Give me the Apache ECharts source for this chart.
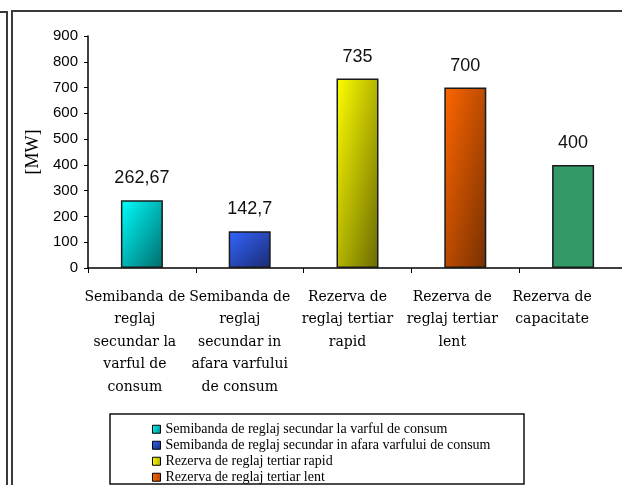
<!DOCTYPE html>
<html>
<head>
<meta charset="utf-8">
<script src="https://cdn.jsdelivr.net/npm/echarts@6/dist/echarts.min.js"></script>
<style>
  html, body { margin: 0; padding: 0; background: #fff; }
  #chart { width: 622px; height: 485px; }
</style>
</head>
<body>
<div id="chart"></div>
<script>
// axis labels (line breaks as in the original)
const categories = [
  "Semibanda de\nreglaj\nsecundar la\nvarful de\nconsum",
  "Semibanda de\nreglaj\nsecundar in\nafara varfului\nde consum",
  "Rezerva de\nreglaj tertiar\nrapid",
  "Rezerva de\nreglaj tertiar\nlent",
  "Rezerva de\ncapacitate"
];
// legend names
const seriesNames = [
  "Semibanda de reglaj secundar la varful de consum",
  "Semibanda de reglaj secundar in afara varfului de consum",
  "Rezerva de reglaj tertiar rapid",
  "Rezerva de reglaj tertiar lent",
  "Rezerva de capacitate"
];
const values = [262.67, 142.7, 735, 700, 400];
const yTicks = [0, 100, 200, 300, 400, 500, 600, 700, 800, 900];

// light -> dark, like the excel 3d fill
const fills = [
  ["#00ffff", "#006a6a"],
  ["#3366ff", "#1a2a72"],
  ["#ffff00", "#6a6a00"],
  ["#ff6600", "#763000"],
  ["#339966", "#339966"]
];
// excel pulls the labels a bit to the left (px)
const labelShift = [7, 10, 10, 13, 21];
const BAR_W = 42;

const chart = echarts.init(document.getElementById("chart"));

// corner-to-corner gradient the way excel does it (isolines along the anti-diagonal)
function diagFill(i, h) {
  const w = BAR_W;
  const d = h * h + w * w;
  return new echarts.graphic.LinearGradient(0, 0, 2 * h * h / d, 2 * w * w / d, [
    { offset: 0, color: fills[i][0] },
    { offset: 1, color: fills[i][1] }
  ]);
}

const series = seriesNames.map((name, i) => ({
  name: name,
  type: "bar",
  stack: "all",
  barWidth: BAR_W,
  data: values.map((v, j) => (j === i ? v : "-")),
  itemStyle: {
    color: fills[i][0],
    borderColor: "#1a1a1a",
    borderWidth: 1.5
  },
  label: {
    show: true,
    position: "top",
    distance: 13,
    color: "#111",
    fontFamily: "'Liberation Sans', sans-serif",
    fontSize: 18,
    formatter: (p) => String(p.value).replace(".", ",")
  }
}));

const option = {
  backgroundColor: "#fff",
  animation: false,
  grid: { left: 88, right: -5, top: 36, bottom: 217, outerBoundsMode: "none" },
  legend: {
    orient: "vertical",
    left: 152,
    top: 422,
    height: 120,
    padding: 0,
    itemWidth: 8,
    itemHeight: 8,
    itemGap: 1.5,
    icon: "rect",
    itemStyle: { borderColor: "#000", borderWidth: 1 },
    textStyle: { fontFamily: "'Liberation Serif', serif", fontSize: 14, lineHeight: 14.5, color: "#000" },
    data: seriesNames
  },
  xAxis: {
    type: "category",
    data: categories.map((c, i) => ({ value: c, textStyle: { padding: [0, labelShift[i] * 2, 0, 0] } })),
    axisLine: { lineStyle: { color: "#000", width: 1.5 } },
    axisTick: { show: true, length: 5, lineStyle: { color: "#000" } },
    axisLabel: {
      interval: 0,
      margin: 18,
      color: "#000",
      fontFamily: "'DejaVu Serif', serif",
      fontSize: 14,
      lineHeight: 22.5
    }
  },
  yAxis: {
    type: "value",
    min: 0,
    max: 900,
    interval: 100,
    name: "[MW]",
    nameLocation: "middle",
    nameGap: 45,
    nameTextStyle: { fontFamily: "'Liberation Serif', serif", fontSize: 18, color: "#000" },
    splitLine: { show: false },
    axisLine: { show: true, lineStyle: { color: "#000", width: 1.5 } },
    axisTick: { show: true, length: 4, lineStyle: { color: "#000" } },
    axisLabel: {
      margin: 10,
      color: "#000",
      fontFamily: "'Liberation Sans', sans-serif",
      fontSize: 15,
      customValues: yTicks
    }
  },
  graphic: [
    // frame of the neighbouring chart on the left
    { type: "polyline", silent: true, shape: { points: [[0, 12], [7, 12], [7, 490]] },
      style: { fill: null, stroke: "#3a3a3a", lineWidth: 2 } },
    // chart frame
    { type: "rect", silent: true, shape: { x: 12, y: 11, width: 640, height: 500 },
      style: { fill: null, stroke: "#3a3a3a", lineWidth: 2 } },
    // legend box
    { type: "rect", silent: true, z: 100, shape: { x: 110, y: 414, width: 414, height: 70 },
      style: { fill: null, stroke: "#111", lineWidth: 1.5 } }
  ],
  series: series
};

chart.setOption(option);

// second pass: bar heights in px are known now, set the gradients
chart.setOption({
  series: values.map((v, i) => {
    const top = chart.convertToPixel({ gridIndex: 0 }, [i, v])[1];
    const base = chart.convertToPixel({ gridIndex: 0 }, [i, 0])[1];
    return { itemStyle: { color: diagFill(i, Math.abs(base - top)) } };
  })
});
</script>
</body>
</html>
